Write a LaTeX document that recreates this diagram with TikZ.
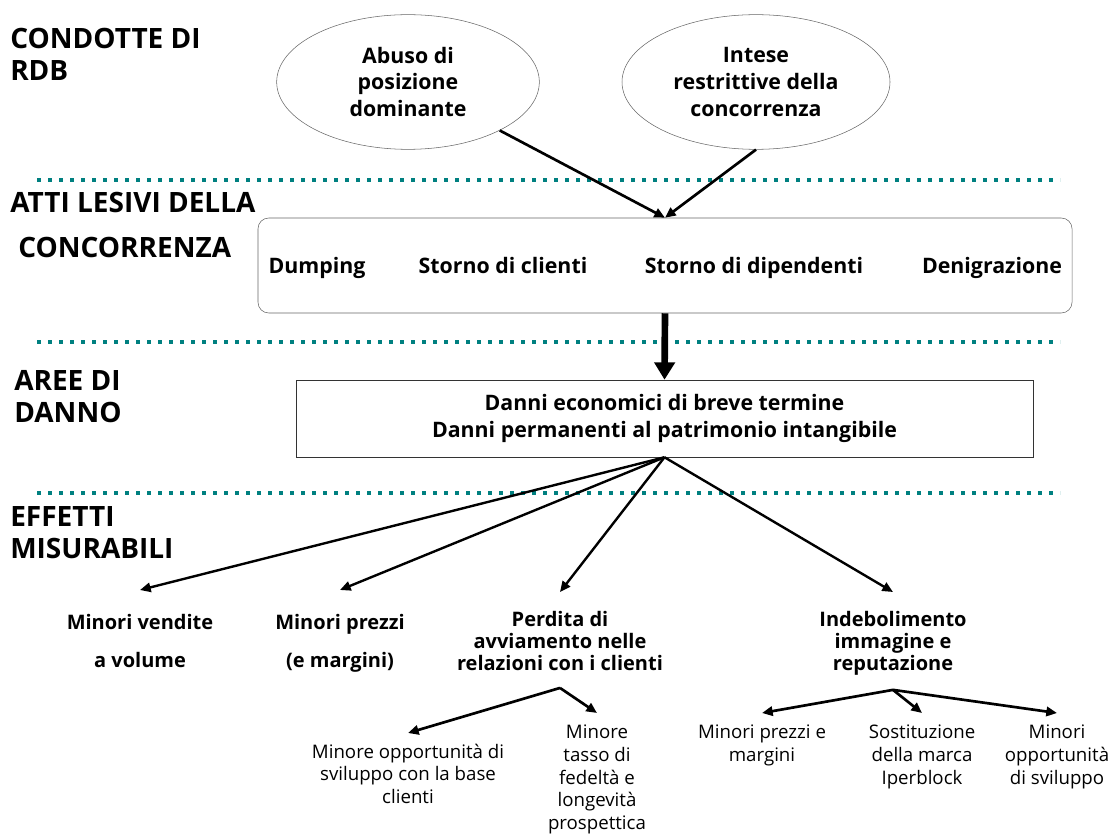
\documentclass[tikz,border=0pt]{standalone}
\usepackage{fontspec}
\setmainfont{Open Sans}
\usetikzlibrary{arrows.meta,positioning,shapes.geometric}
\definecolor{septeal}{RGB}{0,128,128}

\begin{document}
\begin{tikzpicture}[x=0.75pt,y=-0.75pt,
  head/.style={anchor=west,align=left,inner sep=0pt,font=\fontsize{21}{24}\selectfont\bfseries},
  bubble/.style={ellipse,draw=black!60,thin,minimum width=197pt,minimum height=101pt,align=center,font=\fontsize{16}{20}\selectfont\bfseries},
  act/.style={anchor=base,font=\fontsize{16}{19}\selectfont\bfseries},
  effect/.style={align=center,inner sep=0pt,font=\fontsize{15}{16.5}\selectfont\bfseries},
  subeffect/.style={align=center,inner sep=0pt,font=\fontsize{14}{17}\selectfont},
  sep/.style={draw=septeal,line width=3pt,dash pattern=on 3pt off 5.25pt},
  link/.style={-{Triangle[length=8pt,width=7pt]},line width=1.8pt},
  biglink/.style={-{Triangle[length=13pt,width=15pt]},line width=5pt}]
\useasboundingbox (0,0) rectangle (1116,834);

% dotted separators
\foreach \y in {180,342,493}
  \draw[sep] (37,\y) -- (1060,\y);

% row titles
\node[head] (condotte) at (10,54) {CONDOTTE DI\\RDB};
\node[head] (atti) at (10,202) {ATTI LESIVI DELLA};
\node[head] (concorrenza) at (18,247) {CONCORRENZA};
\node[head] (aree) at (14,397) {AREE DI\\DANNO};
\node[head] (effetti) at (10,533) {EFFETTI\\MISURABILI};

% conduct
\node[bubble] (abuso) at (408,82) {Abuso di\\posizione\\dominante};
\node[bubble,minimum width=201pt] (intese) at (756,82) {Intese\\restrittive della\\concorrenza};

% acts
\node[draw=black!60,rounded corners=8pt,minimum width=610.5pt,minimum height=71.25pt] (lesivi) at (665,265.5) {};
\node[act] (dumping) at (317,273) {Dumping};
\node[act] (clienti) at (503,273) {Storno di clienti};
\node[act] (dipendenti) at (754,273) {Storno di dipendenti};
\node[act] (denigrazione) at (992,273) {Denigrazione};

\draw[link,line width=2pt] (abuso) -- (lesivi.north);
\draw[link,line width=2pt] (intese.south) -- (lesivi.north);

% damage
\node[draw=black!80,minimum width=552.75pt,minimum height=57.75pt,align=center,
      font=\fontsize{16}{20}\selectfont\bfseries] (danni) at (664.5,418.5)
  {Danni economici di breve termine\\Danni permanenti al patrimonio intangibile};
\draw[biglink] (lesivi.south) -- (danni.north);

% measurable effects
\coordinate (vendite-in) at (140,590);
\coordinate (prezzi-in) at (340,590);
\coordinate (perdita-in) at (560,592);
\coordinate (immagine-in) at (893,592);
\node[effect,below=18pt of vendite-in] (vendite) {Minori vendite\\[12pt]a volume};
\node[effect,below=18pt of prezzi-in] (prezzi) {Minori prezzi\\[12pt](e margini)};
\node[effect,below=14pt of perdita-in] (perdita) {Perdita di\\avviamento nelle\\relazioni con i clienti};
\node[effect,below=14pt of immagine-in] (immagine) {Indebolimento\\immagine e\\reputazione};
\foreach \n in {vendite,prezzi,perdita,immagine}
  \draw[link] (danni.south) -- (\n-in);

% second level
\coordinate (base-in) at (408,733);
\coordinate (fedelta-in) at (597,713);
\coordinate (margini-in) at (762,713);
\coordinate (marca-in) at (922,713);
\coordinate (sviluppo-in) at (1057,713);
\node[subeffect,below=8pt of base-in] (base) {Minore opportunità di\\sviluppo con la base\\clienti};
\node[subeffect,below=9pt of fedelta-in] (fedelta) {Minore\\tasso di\\fedeltà e\\longevità\\prospettica};
\node[subeffect,below=9pt of margini-in] (margini) {Minori prezzi e\\margini};
\node[subeffect,below=9pt of marca-in] (marca) {Sostituzione\\della marca\\Iperblock};
\node[subeffect,below=9pt of sviluppo-in] (sviluppo) {Minori\\opportunità\\di sviluppo};
\foreach \n in {base,fedelta}
  \draw[link,line width=2pt] ([yshift=-13pt]perdita.south) -- (\n-in);
\foreach \n in {margini,marca,sviluppo}
  \draw[link,line width=2pt] ([yshift=-11pt]immagine.south) -- (\n-in);
\end{tikzpicture}
\end{document}
